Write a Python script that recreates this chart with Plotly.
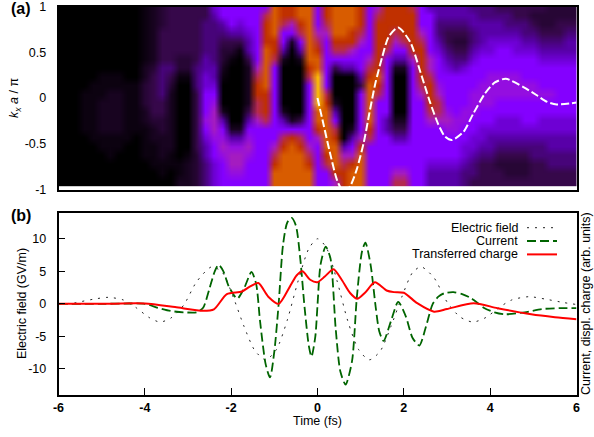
import numpy as np
import plotly.graph_objects as go

W, H = 594, 437

# Heatmap: one string per time column (t = -6 ... 6, step 0.2), top (k=1) to bottom.
# digits = level; letters = half levels (e .5, d 1.5, a 2.5, b 3.5, c 4.5)
MAP_COLUMNS = [
    "000000000000000000000", "000000000000000000000", "000000000000000000000",
    "0000000000eeeee000000", "000000000eeeeeee00000", "00000000eee1111ee0000",
    "00000000ee11111eee000", "00000000ee11111ee0000", "000000000eeeeeee00000",
    "000000000eeeeee000000", "eeeeeee11ddd11eeee000", "1111111d22222d11eee00",
    "ddd2222aaaa22dd111ee0", "2222222a2d1111111ee00", "222222dde000000000ee1",
    "222222dde00000000e111", "2222222aaa2222222dddd", "22aaaa33bb444c4b33aaa",
    "b3aaaaa33b4c555c44bbb", "443a2dd1e000134c5c444", "44432de000000013c55c4",
    "44b32e0000000013c55c4", "444b33211111234c5c444", "444444456776654444444",
    "467778888877764444444", "888877644444444456788", "776443100000134678888",
    "775410000000014788888", "887643100000024678888", "888888876444444456788",
    "444567889999887544444", "776544444467888887644", "888876420001346788875",
    "888876430000000035677", "888775430000001345788", "777654443244444578888",
    "444444567888887644444", "567777778764444444444", "777776444444433444444",
    "777654310000012344456", "777764310000012344456", "677777544444444444444",
    "444567777654444444444", "344444556777654444b33", "33aa3b444c56654444b33",
    "33a22a3b4444c5c444b33", "33a2d2a344444cc444b33", "33a2d2ab4444cc44bb3aa",
    "a33aa3b444ccc44bb3aa2", "aa333b444ccc44bb3a222", "aa33bb44cccc44b33a222",
    "2a33b444ccc44bb3a2d22", "2aa3b444ccc44bb3a2dd2", "22a3bb44ccc44bb3a2dd2",
    "22aa3b444cc444b3a2dd2", "2d2a3b444cc444b3aa222", "2dd2a3b444c44bb3aa222",
    "ddd2a3b444c44bb33aa22", "dd22a3b444444bb33aa22", "dd2a33b444444bb33aa22",
    "dd2a33b444444bb33aa22",
]
LEVEL_OF = {"e": 0.5, "d": 1.5, "a": 2.5, "b": 3.5, "c": 4.5, **{str(i): float(i) for i in range(10)}}
MAP_T = [round(-6 + 0.2 * i, 1) for i in range(61)]
MAP_K = [round(-0.911 + 0.0955 * i, 3) for i in range(21)]
MAP_COLORS = ["#000000", "#180420", "#36084a", "#5800a8", "#8400ff",
              "#a41cc0", "#b42a50", "#c03000", "#d85c00", "#ffc000"]

# White dashed curve in panel (a)
CURVE_T = [0.0, 0.14, 0.29, 0.47, 0.62, 0.76, 0.91, 1.07, 1.2, 1.34, 1.5, 1.65, 1.87, 2.15, 2.38, 2.61,
           2.8, 2.95, 3.11, 3.38, 3.61, 3.88, 4.11, 4.36, 4.77, 5.08, 5.31, 5.54, 6.0]
CURVE_K = [0.0, -0.29, -0.6, -0.92, -1.03, -0.96, -0.78, -0.49, -0.17, 0.16, 0.45, 0.67, 0.77, 0.61, 0.29, -0.05,
           -0.29, -0.42, -0.46, -0.37, -0.17, 0.05, 0.17, 0.21, 0.12, 0.03, -0.04, -0.07, -0.05]

# Panel (b)
FIELD_T = [-6, -5.6, -5.2, -4.85, -4.5, -4.2, -3.9, -3.65, -3.4, -3.1, -2.8, -2.45, -2.2, -1.95, -1.7, -1.45, -1.2,
           -0.95, -0.7, -0.45, -0.2, 0, 0.2, 0.45, 0.7, 0.95, 1.2, 1.45, 1.7, 1.95, 2.2, 2.4, 2.7, 3.0, 3.3, 3.6,
           3.9, 4.2, 4.5, 4.9, 5.3, 5.7, 6]
FIELD_E = [-0.1, 0.2, 0.7, 1.0, 0.6, -0.6, -2.1, -2.8, -2.2, -0.2, 3.4, 5.7, 4.8, 1.0, -3.5, -7.2, -8.6,
           -7.0, -2.5, 3.5, 8.5, 10, 8.7, 3.6, -2.6, -7.0, -8.6, -7.3, -3.5, 1.0, 4.8, 5.7, 4.0, 0.3, -2.0, -2.8,
           -2.1, -0.6, 0.6, 1.1, 0.7, 0.2, -0.1]
CURRENT_T = [-6, -5, -4.4, -4, -3.7, -3.4, -3.1, -2.8, -2.65, -2.5, -2.38, -2.29, -2.18, -2.05, -1.86, -1.7, -1.53,
             -1.42, -1.33, -1.2, -1.1, -1.0, -0.9, -0.8, -0.7, -0.6, -0.5, -0.4, -0.3, -0.2, -0.14, -0.05, 0.0, 0.07,
             0.19, 0.3, 0.42, 0.53, 0.65, 0.8, 0.91, 1.03, 1.11, 1.23, 1.35, 1.43, 1.53, 1.7, 1.87, 2.05, 2.2, 2.36,
             2.5, 2.67, 2.8, 2.94, 3.15, 3.35, 3.56, 3.87, 4.1, 4.33, 4.8, 5.2, 5.6, 6]
CURRENT_V = [0, 0, 0.05, 0, -0.6, -1.1, -1.3, -1.3, -0.6, 2.4, 5, 6, 5, 2.6, 0.8, 2.4, 4.9,
             3, -2.7, -9.3, -11.3, -7.3, 0, 9, 12.5, 13.2, 12, 7, -0.5, -6.5, -8.1, -5, -0.2, 6,
             8.8, 7, -3.7, -10.4, -12.4, -8.8, 0.9, 8, 9.4, 6, -0.6, -4.2, -5.7, -2.7, 0.3, -2, -5.2, -6.4,
             -3.8, 0, 1.1, 1.64, 1.8, 1.5, 0.87, -0.67, -1.3, -1.6, -1.3, -0.8, -0.67, -0.65]
CHARGE_T = [-6, -5, -4, -3.3, -2.65, -2.4, -2.1, -1.75, -1.57, -1.37, -1.14, -0.9, -0.64, -0.48, -0.35, -0.17, 0,
            0.17, 0.37, 0.56, 0.75, 0.92, 1.1, 1.33, 1.6, 1.77, 2.0, 2.31, 2.7, 3.0, 3.62, 4.17, 4.95, 5.5, 6]
CHARGE_V = [0, 0, 0.05, -0.5, -1.07, -0.85, 1.5, 1.9, 2.65, 3.2, 1.1, 0, 2.65, 4.4, 5.0, 3.7, 3.33,
            4.2, 5.3, 3.7, 1.7, 0.77, 1.7, 3.3, 2.05, 1.8, 1.7, 0.1, -1.2, -0.8, 0.1, -0.67, -1.6, -2.05, -2.36]
X_TICKS = [-6, -4, -2, 0, 2, 4, 6]
X_LABELS = ["-6", "-4", "-2", "0", "2", "4", "6"]
E_TICKS = [-10, -5, 0, 5, 10]
E_LABELS = ["-10", "-5", "0", "5", "10"]
K_TICKS = [-1, -0.5, 0, 0.5, 1]
K_LABELS = ["-1", "-0.5", "0", "0.5", "1"]
LEGEND_NAMES = ["Electric field", "Current", "Transferred charge"]

FONT = "Liberation Sans"
FS = 12.5


def px(x):
    return x / W


def py(y):
    return 1 - y / H


z = np.array([[LEVEL_OF[c] for c in col] for col in MAP_COLUMNS]).T[::-1]
scale = [[i / 9, c] for i, c in enumerate(MAP_COLORS)]

fig = go.Figure()
fig.add_trace(go.Heatmap(x=MAP_T, y=MAP_K, z=z, zmin=0, zmax=9, colorscale=scale,
                         zsmooth="fast", showscale=False, xaxis="x", yaxis="y"))
fig.add_trace(go.Scatter(x=CURVE_T, y=CURVE_K, mode="lines", xaxis="x", yaxis="y",
                         line=dict(color="white", width=2, dash="8px,3px", shape="spline", smoothing=0.7),
                         showlegend=False))
STYLES = [dict(color="#222222", width=1, dash="2px,6px"),
          dict(color="#006400", width=1.8, dash="9px,4px"),
          dict(color="#ff0000", width=2)]
for tt, vv, st in zip([FIELD_T, CURRENT_T, CHARGE_T], [FIELD_E, CURRENT_V, CHARGE_V], STYLES):
    fig.add_trace(go.Scatter(x=tt, y=vv, mode="lines", xaxis="x2", yaxis="y2",
                             line=dict(shape="spline", smoothing=0.7, **st), showlegend=False))

shapes, annotations = [], []
for name, st, ly in zip(LEGEND_NAMES, STYLES, [227.7, 241, 254.4]):
    shapes.append(dict(type="line", xref="paper", yref="paper", x0=px(527), x1=px(557),
                       y0=py(ly), y1=py(ly), line=st))
    annotations.append(dict(text=name, xref="paper", yref="paper", x=px(519.5), y=py(ly), xanchor="right",
                            yanchor="middle", showarrow=False, font=dict(family=FONT, size=FS, color="#000")))


def note(text, x, y, angle=0, size=FS, bold=False):
    annotations.append(dict(text=f"<b>{text}</b>" if bold else text, xref="paper", yref="paper",
                            x=px(x), y=py(y), xanchor="center", yanchor="middle", showarrow=False, textangle=angle,
                            font=dict(family=FONT, size=size, color="#000")))


note("(a)", 21, 8, size=16, bold=True)
note("(b)", 21, 215, size=16, bold=True)
note("<i>k<sub>x</sub> a</i> / π", 15, 98, angle=-90)
note("Electric field (GV/m)", 22, 304, angle=-90)
note("Current, displ. charge (arb. units)", 586, 304, angle=-90)
note("Time (fs)", 317, 421)

axis_common = dict(showgrid=False, zeroline=False, showline=True, linecolor="#000", linewidth=1.5, mirror=True,
                   ticks="inside", ticklen=7, tickcolor="#000", tickwidth=1.2, ticklabeloverflow="allow")
fig.update_layout(
    width=W, height=H, margin=dict(l=0, r=0, t=0, b=0, autoexpand=False), paper_bgcolor="white", plot_bgcolor="white",
    showlegend=False, shapes=shapes, annotations=annotations, font=dict(family=FONT, size=FS, color="#000"),
    xaxis=dict(domain=[px(58.5), px(576.5)], range=[-6, 6], anchor="y", tickvals=[], showticklabels=False,
               showgrid=False, zeroline=False, showline=True, linecolor="#000", linewidth=1.5, mirror=True),
    yaxis=dict(domain=[py(189.5), py(6.5)], range=[-1, 1], anchor="x", tickvals=K_TICKS, ticktext=K_LABELS,
               ticklabelstandoff=8, **axis_common),
    xaxis2=dict(domain=[px(58.5), px(576.5)], range=[-6, 6], anchor="y2", tickvals=X_TICKS, ticktext=X_LABELS,
                tickfont=dict(family=FONT, size=FS, weight="bold"), ticklabelstandoff=0, **axis_common),
    yaxis2=dict(domain=[py(395), py(212.7)], range=[-14, 14], anchor="x2", tickvals=E_TICKS, ticktext=E_LABELS,
                ticklabelstandoff=8, **axis_common),
)
fig.write_html("out.html", config={"displayModeBar": False}, post_script="document.body.style.margin='0';")
